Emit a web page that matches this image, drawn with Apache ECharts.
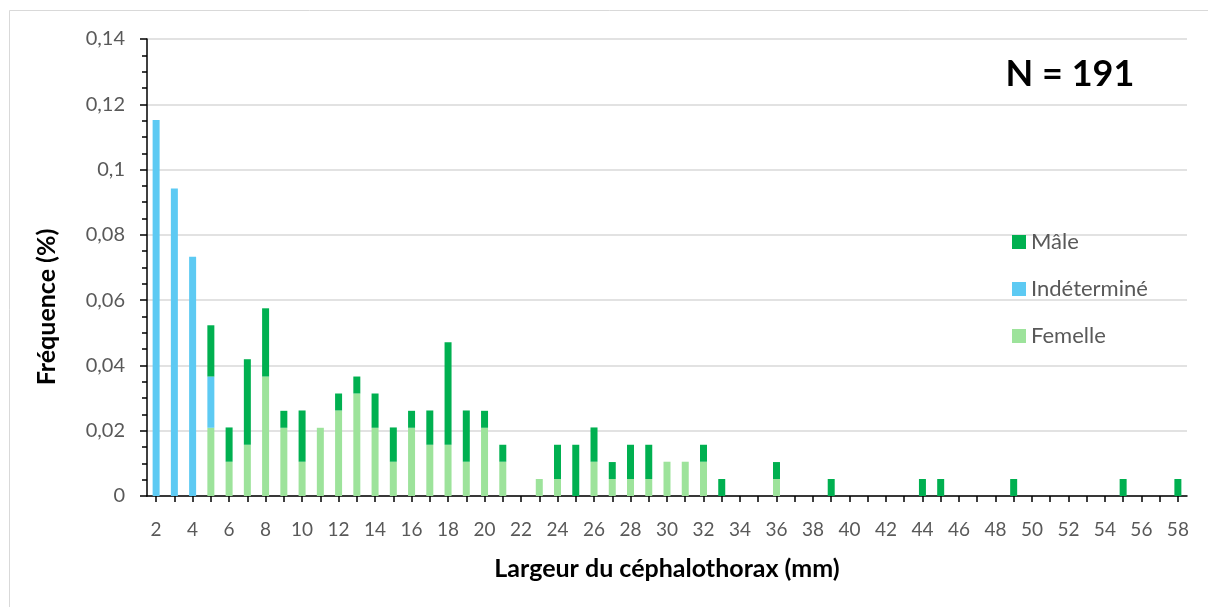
<!DOCTYPE html>
<html>
<head>
<meta charset="utf-8">
<script src="https://cdn.jsdelivr.net/npm/echarts@6/dist/echarts.min.js"></script>
<style>
  html, body { margin: 0; padding: 0; background: #fff; }
  #chart { width: 1208px; height: 607px; }
</style>
</head>
<body>
<div id="chart"></div>
<script>
// largeur du céphalothorax (mm)
const categories = [
  '2', '3', '4', '5', '6', '7', '8', '9', '10', '11',
  '12', '13', '14', '15', '16', '17', '18', '19', '20', '21',
  '22', '23', '24', '25', '26', '27', '28', '29', '30', '31',
  '32', '33', '34', '35', '36', '37', '38', '39', '40', '41',
  '42', '43', '44', '45', '46', '47', '48', '49', '50', '51',
  '52', '53', '54', '55', '56', '57', '58'
];

// fréquences (N = 191)
const femelle = [
  0, 0, 0, 0.0209, 0.0105, 0.0157, 0.0366, 0.0209, 0.0105, 0.0209,
  0.0262, 0.0314, 0.0209, 0.0105, 0.0209, 0.0157, 0.0157, 0.0105, 0.0209, 0.0105,
  0, 0.0052, 0.0052, 0, 0.0105, 0.0052, 0.0052, 0.0052, 0.0105, 0.0105,
  0.0105, 0, 0, 0, 0.0052, 0, 0, 0, 0, 0,
  0, 0, 0, 0, 0, 0, 0, 0, 0, 0,
  0, 0, 0, 0, 0, 0, 0
];
const indetermine = [
  0.1152, 0.0942, 0.0733, 0.0157, 0, 0, 0, 0, 0, 0,
  0, 0, 0, 0, 0, 0, 0, 0, 0, 0,
  0, 0, 0, 0, 0, 0, 0, 0, 0, 0,
  0, 0, 0, 0, 0, 0, 0, 0, 0, 0,
  0, 0, 0, 0, 0, 0, 0, 0, 0, 0,
  0, 0, 0, 0, 0, 0, 0
];
const male = [
  0, 0, 0, 0.0157, 0.0105, 0.0262, 0.0209, 0.0052, 0.0157, 0,
  0.0052, 0.0052, 0.0105, 0.0105, 0.0052, 0.0105, 0.0314, 0.0157, 0.0052, 0.0052,
  0, 0, 0.0105, 0.0157, 0.0105, 0.0052, 0.0105, 0.0105, 0, 0,
  0.0052, 0.0052, 0, 0, 0.0052, 0, 0, 0.0052, 0, 0,
  0, 0, 0.0052, 0.0052, 0, 0, 0, 0.0052, 0, 0,
  0, 0, 0, 0.0052, 0, 0, 0.0052
];

const FONT = 'Lato, "Open Sans", sans-serif';
const GREY = '#595959';

const chart = echarts.init(document.getElementById('chart'));

const options = {
  backgroundColor: '#fff',
  animation: false,
  textStyle: { fontFamily: FONT },
  grid: { left: 147, right: 21, top: 39, bottom: 111 },
  legend: {
    orient: 'vertical',
    left: 1012,
    top: 231,
    padding: 0,
    icon: 'rect',
    itemWidth: 14,
    itemHeight: 14,
    itemGap: 25,
    data: ['Mâle', 'Indéterminé', 'Femelle'],
    textStyle: { color: GREY, fontSize: 22, fontFamily: FONT, lineHeight: 22 }
  },
  graphic: [
    {
      type: 'rect',
      shape: { x: 9.5, y: 10.5, width: 1220, height: 620 },
      style: { fill: 'none', stroke: '#d9d9d9', lineWidth: 1 },
      silent: true
    },
    {
      type: 'text',
      x: 47,
      y: 307,
      rotation: Math.PI / 2,
      style: {
        text: 'Fréquence (%)',
        font: 'bold 25px ' + FONT,
        fill: '#000',
        align: 'center',
        verticalAlign: 'middle'
      }
    },
    {
      type: 'text',
      x: 1070,
      y: 74,
      style: {
        text: 'N = 191',
        font: 'bold 36px ' + FONT,
        fill: '#000',
        align: 'center',
        verticalAlign: 'middle'
      }
    }
  ],
  xAxis: {
    type: 'category',
    data: categories,
    name: 'Largeur du céphalothorax (mm)',
    nameLocation: 'middle',
    nameGap: 60,
    nameTextStyle: { color: '#000', fontSize: 25, fontWeight: 'bold', fontFamily: FONT },
    axisLine: { lineStyle: { color: '#000', width: 1.5 } },
    axisTick: { show: true, alignWithLabel: true, interval: 0, length: 6, lineStyle: { color: '#000', width: 1.5 } },
    axisLabel: { interval: 1, color: GREY, fontSize: 19, margin: 24, fontFamily: FONT }
  },
  yAxis: {
    type: 'value',
    min: 0,
    max: 0.14,
    interval: 0.02,
    axisLine: { show: true, lineStyle: { color: '#000', width: 1.5 } },
    axisTick: { show: true, length: 7, lineStyle: { color: '#000', width: 1.5 } },
    minorTick: { show: true, splitNumber: 4, length: 5, lineStyle: { color: '#000', width: 1.5 } },
    splitLine: { show: true, lineStyle: { color: '#d9d9d9', width: 1.5 } },
    axisLabel: {
      color: GREY,
      fontSize: 20,
      margin: 22,
      fontFamily: FONT,
      formatter: function (v) { return String(+v.toFixed(2)).replace('.', ','); }
    }
  },
  series: [
    {
      name: 'Femelle',
      type: 'bar',
      stack: 'freq',
      barWidth: 7,
      itemStyle: { color: '#9DE39B' },
      data: femelle
    },
    {
      name: 'Indéterminé',
      type: 'bar',
      stack: 'freq',
      barWidth: 7,
      itemStyle: { color: '#5DCAF3' },
      data: indetermine
    },
    {
      name: 'Mâle',
      type: 'bar',
      stack: 'freq',
      barWidth: 7,
      itemStyle: { color: '#00B050' },
      data: male
    }
  ]
};

chart.setOption(options);
</script>
</body>
</html>
